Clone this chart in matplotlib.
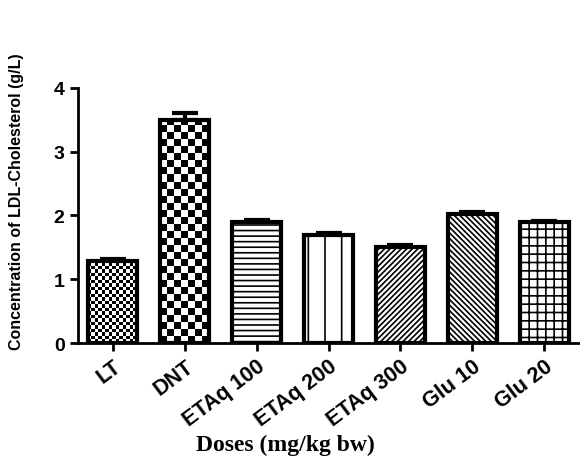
import numpy as np
import matplotlib
matplotlib.use("Agg")
import matplotlib.pyplot as plt

groups = ["LT", "DNT", "ETAq 100", "ETAq 200", "ETAq 300", "Glu 10", "Glu 20"]
ldl = [1.28, 3.50, 1.90, 1.69, 1.50, 2.03, 1.89]
sem = [0.03, 0.10, 0.03, 0.03, 0.03, 0.03, 0.03]
fills = ["checker_fine", "checker", "---", "|", "//////", "\\\\\\\\\\\\", "++"]

plt.rcParams['hatch.linewidth'] = 1.2
plt.rcParams['font.family'] = ['Liberation Sans', 'DejaVu Sans']

fig = plt.figure(figsize=(5.8, 4.6), dpi=100)
ax = fig.add_axes([0.134, 0.252, 0.866, 0.555])

x = np.arange(len(groups))
width = 0.68
bars = ax.bar(x, ldl, width=width, color="white", edgecolor="black", linewidth=3, zorder=2)
ax.errorbar(x, ldl, yerr=[np.zeros(len(sem)), sem], fmt="none", ecolor="black",
            elinewidth=3, capsize=9.5, capthick=3, zorder=1)

for b, f in zip(bars, fills):
    if f.startswith("checker"):
        b.set_facecolor("none")
        ncol = 14 if f == "checker_fine" else 7
        cell_w = width / ncol
        # cells roughly square on screen
        cell_h = cell_w * 72.0 / 63.75
        nrow = int(np.ceil(b.get_height() / cell_h))
        board = (np.add.outer(np.arange(nrow), np.arange(ncol)) % 2).astype(float)
        x0 = b.get_x()
        im = ax.imshow(board, cmap="gray", interpolation="nearest", origin="lower",
                       extent=(x0, x0 + width, 0, nrow * cell_h), aspect="auto", zorder=1.5)
        im.set_clip_path(b)
    else:
        b.set_hatch(f)

ax.set_xlim(-0.49, 6.5)
ax.set_ylim(0, 4)
ax.set_yticks([0, 1, 2, 3, 4])
ax.set_xticks(x)
ax.set_xticklabels(groups, rotation=37, ha="right", va="top", rotation_mode="anchor",
                   fontsize=15.5, fontweight="bold")
for lab in ax.get_yticklabels():
    lab.set_fontsize(14)
    lab.set_fontweight("bold")

ax.spines["top"].set_visible(False)
ax.spines["right"].set_visible(False)
ax.spines["left"].set_linewidth(2)
ax.spines["bottom"].set_linewidth(2)
ax.tick_params(axis="both", width=2, length=6, direction="out")
ax.tick_params(axis="x", pad=3)

fig.text(17 / 580, 1 - 202 / 460, "Concentration of LDL-Cholesterol (g/L)",
         rotation=90, ha="center", va="center", fontsize=11.5, fontweight="bold")
fig.text(285 / 580, 1 - 445 / 460, "Doses (mg/kg bw)", ha="center", va="center",
         fontsize=17, fontweight="bold", family=["Liberation Serif", "DejaVu Serif"])

plt.savefig("out.png", dpi=100)
